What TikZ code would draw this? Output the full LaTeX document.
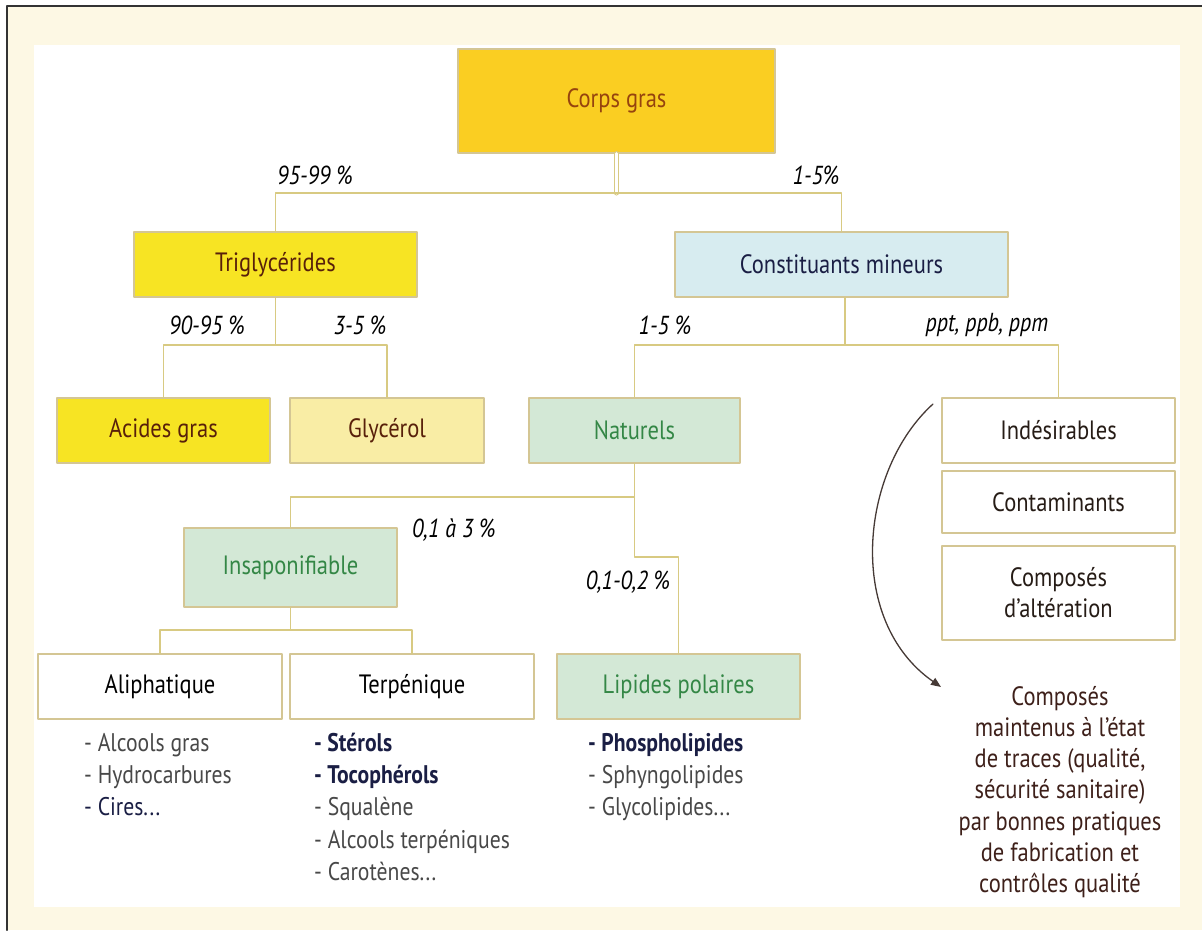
\documentclass[tikz,border=0pt]{standalone}
\usepackage{fontspec}
\setmainfont{PT Sans}[FakeStretch=0.85]
\usetikzlibrary{arrows.meta}
\definecolor{creambg}{RGB}{253,248,228}
\definecolor{corpsfill}{RGB}{250,206,34}
\definecolor{trigfill}{RGB}{247,228,35}
\definecolor{glycfill}{RGB}{249,237,165}
\definecolor{constfill}{RGB}{215,236,240}
\definecolor{natfill}{RGB}{211,232,214}
\definecolor{boxline}{RGB}{212,198,148}
\definecolor{connline}{RGB}{216,202,130}
\definecolor{corpstxt}{RGB}{150,68,14}
\definecolor{browntxt}{RGB}{88,32,10}
\definecolor{navytxt}{RGB}{26,30,68}
\definecolor{greentxt}{RGB}{52,135,70}
\definecolor{graytxt}{RGB}{72,72,72}
\definecolor{darktxt}{RGB}{38,28,22}
\definecolor{tracetxt}{RGB}{62,32,26}
\definecolor{arcline}{RGB}{70,58,54}

\begin{document}
\begin{tikzpicture}[line cap=round,line join=round,>={Triangle[length=10pt,width=8pt]},x=1pt,y=-1pt,
  box/.style={draw=boxline,line width=1.2pt,inner sep=0pt,align=center,font=\fontsize{26.5}{31}\selectfont},
  conn/.style={draw=connline,line width=1.1pt},
  dbl/.style={draw=connline,line width=1pt,double=white,double distance=3pt},
  pct/.style={font=\fontsize{26}{30}\selectfont\itshape,text=black,inner sep=0pt},
  liste/.style={anchor=north west,align=left,inner sep=0pt,text=graytxt,font=\fontsize{25.5}{32.2}\selectfont}]
\useasboundingbox (0,0) rectangle (1202,930);
\fill[white] (0,0) rectangle (1202,930);
\fill[creambg] (7,6) rectangle (1202,930);
\fill[white] (34,45) rectangle (1180,907);
\draw[line width=2pt,black!80] (7,930) -- (7,6) -- (1202,6);

\node[box,fill=corpsfill,text=corpstxt,minimum width=317pt,minimum height=104pt] (corps) at (616.5,101) {Corps gras};
\node[box,fill=trigfill,text=browntxt,minimum width=283pt,minimum height=65pt] (trig) at (275.5,264.5) {Triglycérides};
\node[box,fill=constfill,text=navytxt,minimum width=333pt,minimum height=65pt] (const) at (841.5,264.5) {Constituants mineurs};
\node[box,fill=trigfill,text=browntxt,minimum width=213pt,minimum height=65pt] (acides) at (163.5,430.5) {Acides gras};
\node[box,fill=glycfill,text=browntxt,minimum width=194pt,minimum height=65pt] (glyc) at (387,430.5) {Glycérol};
\node[box,fill=natfill,text=greentxt,minimum width=211pt,minimum height=65pt] (nat) at (634.5,430.5) {Naturels};
\node[box,fill=white,text=darktxt,minimum width=233pt,minimum height=65pt] (indes) at (1058.5,430.5) {Indésirables};
\node[box,fill=white,text=darktxt,minimum width=233pt,minimum height=62pt] (contam) at (1058.5,502) {Contaminants};
\node[box,fill=white,text=darktxt,minimum width=233pt,minimum height=94pt] (alter) at (1058.5,593) {Composés\\d’altération};
\node[box,fill=natfill,text=greentxt,minimum width=213pt,minimum height=79pt] (insap) at (290.5,567.5) {Insaponifiable};
\node[box,fill=white,text=black,minimum width=244pt,minimum height=65pt] (aliph) at (160,686.5) {Aliphatique};
\node[box,fill=white,text=black,minimum width=244pt,minimum height=65pt] (terp) at (412,686.5) {Terpénique};
\node[box,fill=natfill,text=greentxt,minimum width=243pt,minimum height=65pt] (lipid) at (678.5,686.5) {Lipides polaires};

\coordinate (split1) at (616.5,193);
\coordinate (split2) at (275.5,345);
\coordinate (split3) at (845,345);
\coordinate (split4) at (634.5,497);
\coordinate (split5) at (290.5,630);
\coordinate (bend4) at (634.5,557);
\draw[dbl] (corps.south) -- (split1);
\draw[conn] (trig.north) |- (split1) -| (const.north);
\draw[conn] (trig.south) -- (split2);
\draw[conn] (acides.north) |- (split2) -| (glyc.north);
\draw[conn] (const.south -| split3) -- (split3);
\draw[conn] (nat.north) |- (split3) -| (indes.north);
\draw[conn] (nat.south) -- (bend4) -| (lipid.north);
\draw[conn] (insap.north) |- (split4);
\draw[conn] (insap.south) -- (split5);
\draw[conn] (aliph.north) |- (split5) -| (terp.north);

\node[pct] (p1) at (315,175) {95-99 \%};
\node[pct] (p2) at (816,175) {1-5\%};
\node[pct] (p3) at (207,325) {90-95 \%};
\node[pct] (p4) at (360,325) {3-5 \%};
\node[pct] (p5) at (665,325) {1-5 \%};
\node[pct] (p6) at (987,325) {ppt, ppb, ppm};
\node[pct] (p7) at (454,530) {0,1 à 3 \%};
\node[pct] (p8) at (628,582) {0,1-0,2 \%};

\node[liste] (aliphlist) at (84,733) {- Alcools gras\\- Hydrocarbures\\\textcolor{navytxt}{- Cires...}};
\node[liste] (terplist) at (314,733) {\textcolor{navytxt}{\bfseries - Stérols}\\\textcolor{navytxt}{\bfseries - Tocophérols}\\- Squalène\\- Alcools terpéniques\\- Carotènes...};
\node[liste] (lipidlist) at (588,733) {\textcolor{navytxt}{\bfseries - Phospholipides}\\- Sphyngolipides\\- Glycolipides...};

\node[align=center,inner sep=0pt,text=tracetxt,font=\fontsize{26.5}{31.2}\selectfont] (traces) at (1060,792) {Composés\\maintenus à l’état\\de traces (qualité,\\sécurité sanitaire)\\par bonnes pratiques\\de fabrication et\\contrôles qualité};
\coordinate (arcstart) at (933,404);
\coordinate (arcend) at (941,687);
\draw[->,arcline,line width=1.3pt] (arcstart) .. controls (860,470) and (845,620) .. (arcend);
\end{tikzpicture}
\end{document}
